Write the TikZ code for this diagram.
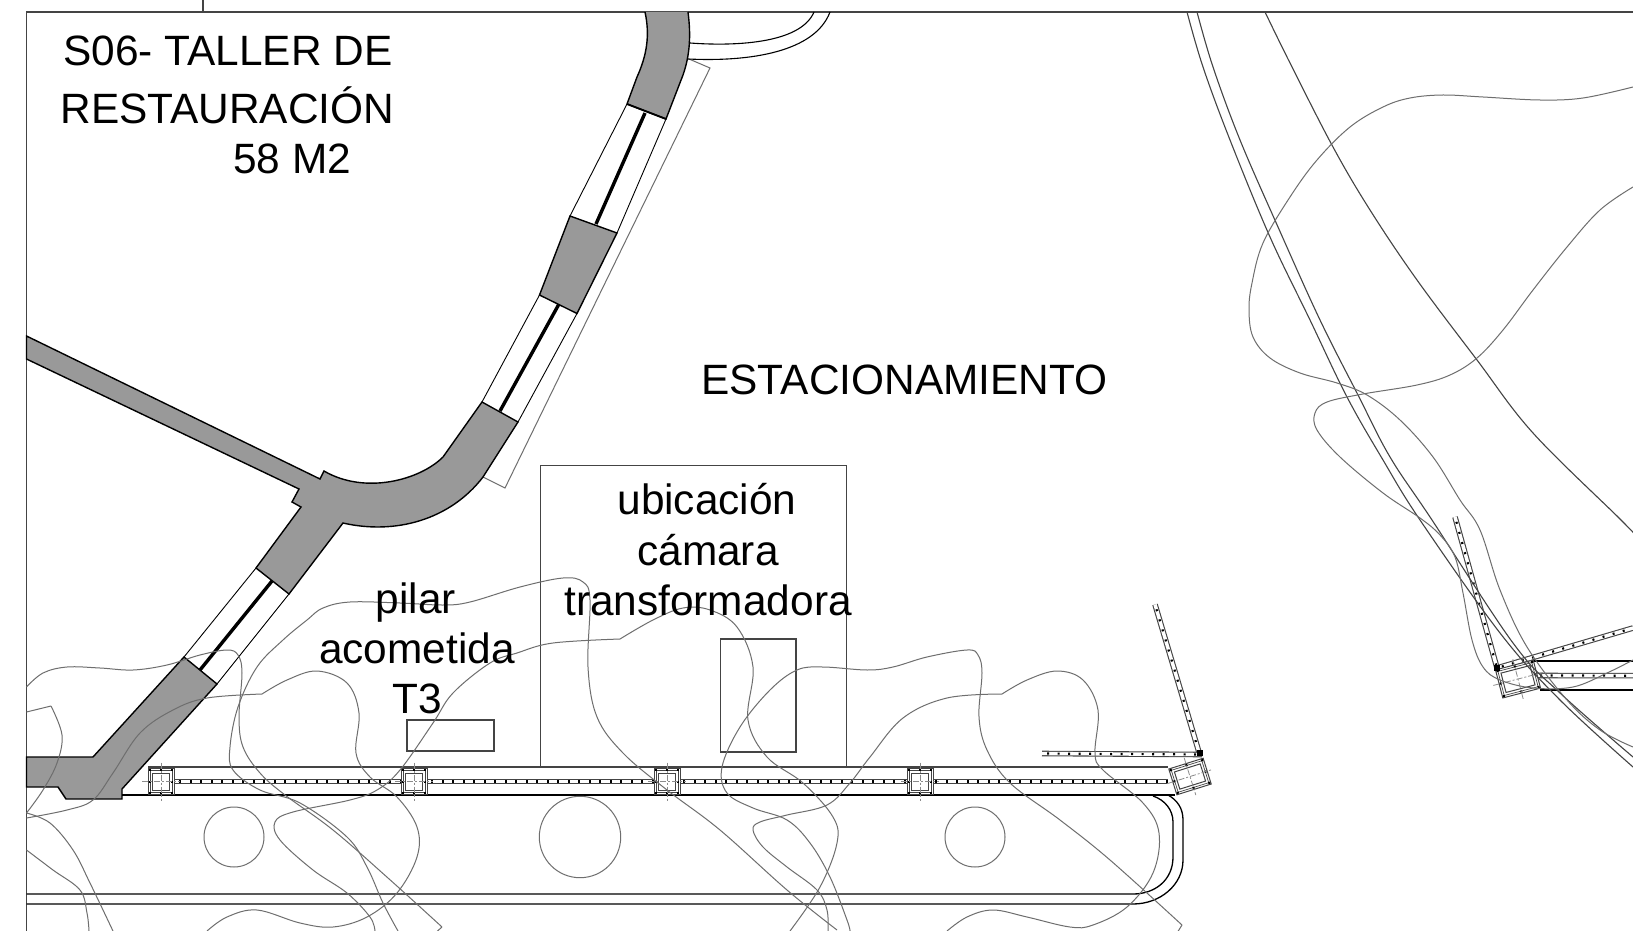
\documentclass[tikz,border=0pt]{standalone}
\usepackage{fontspec}
\setmainfont{Liberation Sans}
\usetikzlibrary{decorations.markings}
\definecolor{wallgray}{HTML}{999999}
\definecolor{treegray}{HTML}{6E6E6E}
\definecolor{linegray}{HTML}{444444}
\tikzset{
  wall/.style={fill=wallgray,draw=black,line width=.7pt,line join=miter},
  tree/.style={draw=treegray,line width=.5pt},
  plan/.style={draw=linegray,line width=.62pt},
  black line/.style={draw=black,line width=.65pt},
  core/.style={draw=black,line width=1.7pt},
  pale/.style={draw=treegray,line width=.5pt},
  label/.style={font=\fontsize{21.2}{21.2}\selectfont,inner sep=0pt,anchor=base west,text=black},
  clabel/.style={font=\fontsize{21.2}{21.2}\selectfont,inner sep=0pt,anchor=base,text=black},
  tickbar/.style={draw=linegray,line width=.55pt,double=white,double distance=1.7pt,
    postaction={decorate,decoration={markings,
      mark=between positions 3pt and 1 step 5.25pt with {\fill[black] (-.5pt,-.55pt) rectangle (.5pt,.55pt);}}}},
  cross/.style={draw=treegray!80,line width=.4pt,dash pattern=on 3pt off 1pt on 1pt off 1pt}
}
\newcommand{\colbox}[5]{%
  \begin{scope}[shift={(#1,#2)},rotate=#3]
    \fill[white] (-#4,-#5) rectangle (#4,#5);
    \draw[draw=linegray,line width=.5pt] (-#4,-#5) rectangle (#4,#5);
    \draw[draw=linegray,line width=.35pt] ({-#4+2},{-#5+2}) rectangle ({#4-2},{#5-2});
    \draw[draw=linegray,line width=.5pt] ({-#4+4.5},{-#5+4.5}) rectangle ({#4-4.5},{#5-4.5});
    \foreach \sx/\sy in {-1/-1,0/-1,1/-1,-1/0,1/0,-1/1,0/1,1/1}
      \fill[black] ({\sx*(#4-1.6)-1},{\sy*(#5-1.6)-1}) rectangle +(2,2);
    \draw[cross] ({-#4-6},0) -- ({#4+6},0);
    \draw[cross] (0,{-#5-6}) -- (0,{#5+6});
  \end{scope}}
\begin{document}
\begin{tikzpicture}[x=.5pt,y=-.5pt]
\useasboundingbox (0,0) rectangle (1633,931);
\clip (0,0) rectangle (1633,931);
\fill[white] (0,0) rectangle (1633,931);

% frame
\draw[plan] (26.5,931) -- (26.5,12) -- (1633,12);
\draw[plan] (203,0) -- (203,12);

% pale outer line beside the corridor
\draw[pale] (689,59) -- (710,68) -- (505,488) -- (483,477);

% corridors
\draw[plan,draw=black,line width=.45pt] (627,104) -- (570,216) (666,119) -- (617,233)
  (539.5,295) -- (482,402) (577,313.5) -- (518,422)
  (256,568) -- (184,657) (289,594) -- (217,684);
\draw[core] (645,113) -- (596,224) (559,304) -- (500,411) (272,581) -- (200,670);

% walls
\draw[wall] (645,12) .. controls (650,35) and (647,55) .. (637,77) -- (627,104) -- (666,119)
  -- (683,75) .. controls (690,55) and (691,35) .. (688,12);
\draw[black line,line width=.9pt] (627,104) -- (666,119);
\draw[wall] (570,216) -- (617,233) -- (577,313.5) -- (539.5,295) -- cycle;
\draw[wall] (482,402) -- (518,422) -- (483,477) .. controls (450,520) and (395,535) .. (343,523)
  -- (289,594) -- (256,568) -- (301,507) -- (292,502) -- (299,489) -- (26.5,359) -- (26.5,336)
  -- (320,479) -- (324,471) .. controls (365,495) and (420,480) .. (443,457) -- cycle;
\draw[wall] (184,657) -- (217,684) -- (122,789) -- (122,799) -- (66,799) -- (58,787) -- (26.5,787)
  -- (26.5,757) -- (93,757) -- cycle;

% top curves
\draw[black line,line width=.55pt] (690,43) .. controls (730,46) and (800,45) .. (814,12);
\draw[black line,line width=.55pt] (688,59) .. controls (750,62) and (815,52) .. (830,12);

% rails
\draw[plan] (148,767) -- (1168,767);
\draw[black line] (122,795) -- (1175,795);
\draw[black line,line width=.55pt] (1533,661) -- (1633,661);
\draw[black line,line width=.55pt] (1540,690) -- (1633,690);

% boxes and circles
\draw[plan] (540.7,767) -- (540.7,465.5) -- (846.7,465.5) -- (846.7,767);
\draw[plan] (407,720) rectangle (494,751);
\draw[plan] (720.7,639) rectangle (796,752);
\draw[tree] (234,837) circle (30);
\draw[tree] (580,837) circle (40.7);
\draw[tree] (975,837) circle (30);

% road
\draw[black line] (26.5,894) -- (1133,894) .. controls (1155,894) and (1173,880) .. (1173,857)
  -- (1173,822) .. controls (1173,810) and (1165,800) .. (1153,796);
\draw[black line] (26.5,904) -- (1133,904) .. controls (1160,904) and (1183,885) .. (1183,860)
  -- (1183,820) .. controls (1183,808) and (1177,800) .. (1168,795);

% tick bars and columns
\draw[tickbar] (174,781.5) -- (1168,781.5);
\draw[tickbar] (1155,604.5) -- (1199.5,754);
\draw[tickbar] (1042,753.5) -- (1202,754.5);
\draw[tickbar] (1455,517) -- (1497,668);
\draw[tickbar] (1497,668) -- (1633,628);
\draw[tickbar] (1535,675.5) -- (1640,675.7);
\colbox{161}{781.5}{0}{13}{13}
\colbox{414}{781.5}{0}{13}{13}
\colbox{667}{781.5}{0}{13}{13}
\colbox{920}{781.5}{0}{13}{13}
\colbox{1190}{776.5}{17.4}{18}{13.5}
\colbox{1518}{679}{14.6}{19.5}{14.5}
\fill[black] (1197,750) rectangle (1203,756);
\fill[black] (1494,665) rectangle (1500,671);

% long arcs
\draw[linegray,line width=.55pt] plot[smooth,tension=.6] coordinates {(1187,12) (1203,67) (1230,140) (1270,237) (1310,320) (1347,397) (1383,460) (1420,520) (1500,633) (1560,700) (1633,767)};
\draw[linegray,line width=.55pt] plot[smooth,tension=.6] coordinates {(1197,12) (1213,67) (1240,140) (1278,227) (1320,320) (1358,395) (1390,457) (1432,520) (1513,643) (1560,693) (1633,757)};
\draw[linegray,line width=.55pt] plot[smooth,tension=.6] coordinates {(1265,12) (1290,63) (1333,147) (1370,210) (1417,280) (1477,360) (1533,433) (1620,519) (1640,540)};

% irregular curves
\draw[tree] plot[smooth,tension=.6] coordinates {(1633,87) (1583,98) (1540,100) (1483,97) (1443,95) (1410,98) (1383,107) (1350,127) (1317,160) (1290,197) (1263,243) (1252,283) (1249,310) (1253,337) (1270,358) (1300,373) (1337,383) (1367,395) (1400,420) (1433,457) (1460,500) (1480,530) (1500,590) (1527,647) (1567,700) (1600,730) (1633,747)};
\draw[tree] plot[smooth,tension=.6] coordinates {(1633,187) (1600,210) (1567,247) (1533,290) (1503,330) (1477,358) (1450,375) (1417,385) (1363,394) (1327,402) (1315,413) (1317,430) (1340,457) (1383,493) (1420,518) (1440,535) (1455,557) (1463,593) (1472,640) (1483,667) (1500,680) (1533,688) (1573,687) (1607,673) (1633,660)};
% C
\draw[tree] plot[smooth,tension=.6] coordinates {(26.5,687) (43,673) (67,667) (100,668) (133,670) (167,665) (200,655) (227,650) (238,655) (242,673) (239,717) (243,747) (260,773) (285,795) (333,830) (388,878) (442,927)};
\draw[tree] (442,927) -- (433,935);
% D + H
\draw[tree] plot[smooth,tension=.6] coordinates {(398,931) (383,903) (367,867) (347,837) (300,803) (260,790) (233,770) (230,747) (238,707) (257,667) (283,640) (307,620) (323,608) (350,602) (400,603) (443,605) (470,602) (520,587) (563,578) (583,582) (590,600) (588,667) (597,717) (623,753) (667,790) (720,830) (787,890) (837,930)};
% F
\draw[tree] plot[smooth,tension=.6] coordinates {(26.5,818) (67,810) (93,800) (113,773) (140,733) (173,710) (207,698) (262,694)};
\draw[tree] plot[smooth,tension=.6] coordinates {(262,694) (287,680) (317,671) (347,683) (359,713) (356,753) (370,777) (397,797) (417,827) (417,857) (397,893) (367,917) (333,927) (300,923) (257,910) (227,917) (207,931)};
% G
\draw[tree] plot[smooth,tension=.6] coordinates {(375,931) (370,917) (347,893) (313,870) (280,840) (275,822) (293,812) (350,800) (377,790) (400,770) (433,723) (453,693) (490,663) (517,653) (553,643) (620,639)};
\draw[tree] plot[smooth,tension=.6] coordinates {(620,639) (653,620) (683,608) (710,610) (737,627) (753,667) (748,720) (767,757) (803,783) (833,817) (837,843) (820,887) (790,931)};
% J
\draw[tree] plot[smooth,tension=.6] coordinates {(850,931) (847,920) (830,877) (810,843) (787,820) (753,808) (727,793) (722,767) (740,727) (770,690) (797,670) (823,667) (867,670) (893,667) (927,657) (967,650) (978,655) (982,673) (979,717) (987,750) (1010,783) (1060,820) (1110,860) (1182,925)};
\draw[tree] (1182,925) -- (1177,933);
% K
\draw[tree] plot[smooth,tension=.6] coordinates {(828,931) (827,910) (817,890) (787,867) (763,847) (753,830) (760,822) (787,815) (827,805) (850,783) (870,757) (903,718) (947,698) (1002,694)};
\draw[tree] plot[smooth,tension=.6] coordinates {(1002,694) (1027,680) (1057,671) (1083,680) (1098,710) (1095,753) (1103,770) (1143,803) (1159,833) (1153,873) (1127,907) (1093,925) (1070,927) (1027,917) (993,910) (967,917) (947,931)};
% left pieces
\draw[tree] (26.5,712) -- (51,706);
\draw[tree] plot[smooth,tension=.6] coordinates {(51,706) (62,735) (57,763) (43,790) (26.5,813)};
\draw[tree] plot[smooth,tension=.6] coordinates {(26.5,813) (50,823) (73,850) (90,883) (113,931)};
\draw[tree] plot[smooth,tension=.6] coordinates {(26.5,850) (53,870) (80,890) (87,913) (89,931)};

% labels
\node[label] (t1) at (63,65.5) {S06- TALLER DE};
\node[label] (t2) at (60,124) {RESTAURACIÓN};
\node[label] (t3) at (233,174) {58 M2};
\node[label] (est) at (701,394) {ESTACIONAMIENTO};
\node[clabel] (u1) at (707,514) {ubicación};
\node[clabel] (u2) at (708,565) {cámara};
\node[clabel] (u3) at (708,615) {transformadora};
\node[clabel] (p1) at (416,613) {pilar};
\node[clabel] (p2) at (417,663) {acometida};
\node[clabel] (p3) at (417,713) {T3};
\end{tikzpicture}
\end{document}
